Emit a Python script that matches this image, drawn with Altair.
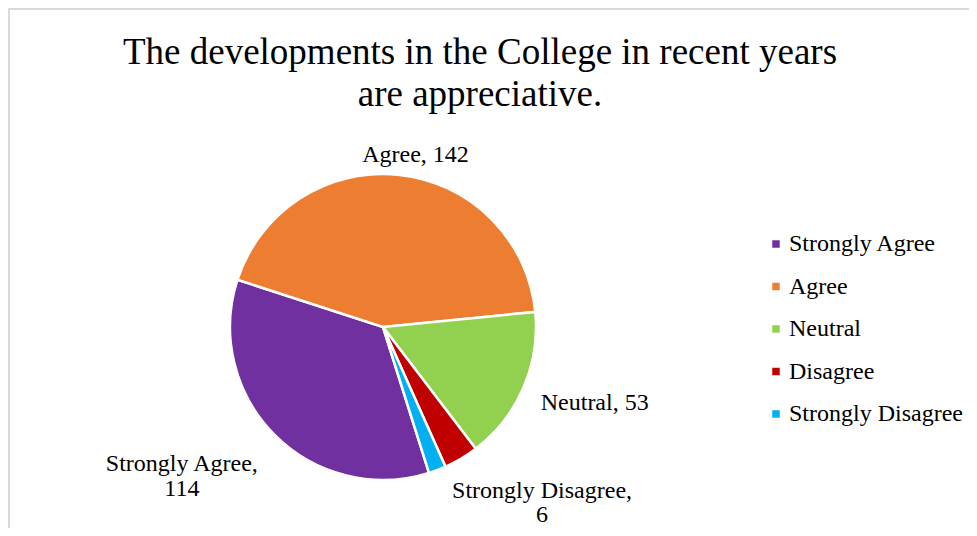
import math
import altair as alt
import pandas as pd

categories = ["Strongly Agree", "Agree", "Neutral", "Disagree", "Strongly Disagree"]
values = [114, 142, 53, 12, 6]
label_lines = [["Strongly Agree,", "114"], ["Agree, 142"], ["Neutral, 53"], [], ["Strongly Disagree,", "6"]]
colors = ["#7030A0", "#ED7D31", "#92D050", "#C00000", "#00B0F0"]
title_lines = ["The developments in the College in recent years", "are appreciative."]

total = sum(values)
df = pd.DataFrame({
    "cat": categories,
    "value": values,
    "idx": list(range(len(categories))),
    "label": ["\n".join(l) for l in label_lines],
})

FONT = "Times New Roman, Liberation Serif, serif"
start = math.radians(162.5)
theta_scale = alt.Scale(domain=[0, total], range=[start, start + 2 * math.pi], zero=True, nice=False)

CX, CY, R = 375, 219, 153

base = alt.Chart(df).encode(
    theta=alt.Theta("value:Q", stack=True, scale=theta_scale),
    order=alt.Order("idx:Q"),
    x=alt.value(CX),
    y=alt.value(CY),
)

pie = base.mark_arc(outerRadius=R, stroke="white", strokeWidth=2.5).encode(
    color=alt.Color(
        "cat:N",
        sort=categories,
        scale=alt.Scale(domain=categories, range=colors),
        legend=alt.Legend(
            title=None, orient="none", legendX=756, legendY=124, padding=0,
            symbolType="square", symbolSize=56, symbolStrokeWidth=0,
            labelFont=FONT, labelFontSize=24, labelColor="black",
            labelLimit=400, rowPadding=18.5, labelOffset=1,
        ),
    )
)

def label_layer(cat, align, dx, dy, lh=25):
    return base.transform_calculate(
        show=f"datum.cat == '{cat}' ? datum.label : ''"
    ).mark_text(
        radius=172, align=align, baseline="top", dx=dx, dy=dy,
        font=FONT, fontSize=24, lineHeight=lh, lineBreak="\n", color="black",
    ).encode(text="show:N")

labels = [
    label_layer("Agree", "center", 14, -13),
    label_layer("Neutral", "left", 0, -5),
    label_layer("Strongly Agree", "center", -79, 4),
    label_layer("Strongly Disagree", "center", 98, -9, lh=24),
]

title_df = pd.DataFrame({"t": ["\n".join(title_lines)]})
title = alt.Chart(title_df).mark_text(
    font=FONT, fontSize=37, lineHeight=42, lineBreak="\n", color="black",
    align="center", baseline="top",
).encode(text="t:N", x=alt.value(472), y=alt.value(-73))

border_top = alt.Chart(df).mark_rule(color="#d9d9d9", strokeWidth=1.5).encode(
    x=alt.value(0), x2=alt.value(969), y=alt.value(-99.25)
)
border_left = alt.Chart(df).mark_rule(color="#d9d9d9", strokeWidth=1.5).encode(
    x=alt.value(0.75), y=alt.value(-100), y2=alt.value(428)
)

chart = alt.layer(border_top, border_left, pie, *labels, title).properties(
    width=961,
    height=420,
    padding={"left": 0, "top": 100, "right": 0, "bottom": 0},
    autosize=alt.AutoSizeParams(type="none"),
).configure_view(stroke=None)

chart.save("out.html", embed_options={"renderer": "svg", "actions": False})
